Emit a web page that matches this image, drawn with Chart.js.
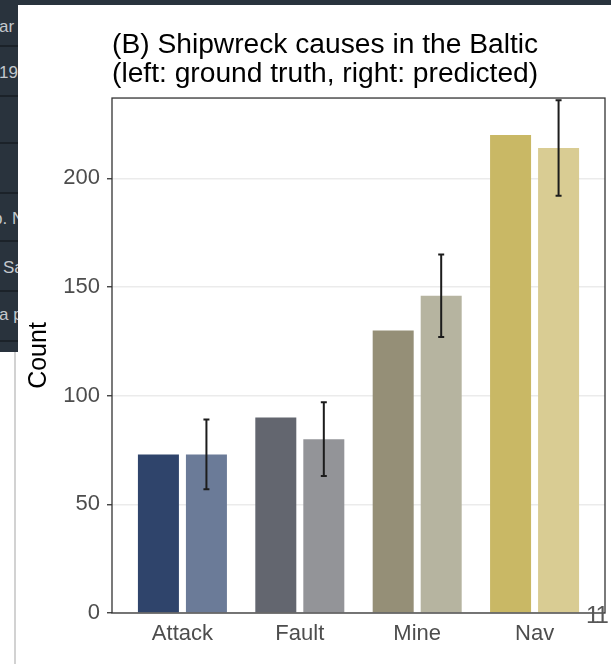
<!DOCTYPE html>
<html>
<head>
<meta charset="utf-8">
<script src="https://cdn.jsdelivr.net/npm/chart.js@4.4.1/dist/chart.umd.min.js"></script>
<style>
  html, body { margin: 0; padding: 0; width: 611px; height: 664px; overflow: hidden; background: #fff;
    font-family: "Liberation Sans", Arial, sans-serif; }
  #side { position: absolute; left: 0; top: 0; width: 18px; height: 352px; background: #29333d; overflow: hidden; }
  #topband { position: absolute; left: 0; top: 0; width: 611px; height: 5px; background: #29333d; }
  .row { position: absolute; left: 0; width: 18px; height: 2px; background: #1b2229; }
  .frag { position: absolute; color: #c3c8cd; font-size: 17px; line-height: 17px; white-space: nowrap; }
  #edge { position: absolute; left: 14px; top: 352px; width: 2px; height: 312px; background: #d2d2d2; }
  #panel { position: absolute; left: 18px; top: 5px; width: 593px; height: 659px; background: #fff; }
  #pageno { position: absolute; left: 586px; top: 603px; font-size: 24px; line-height: 24px; color: #575757;
    letter-spacing: -2px; }
</style>
</head>
<body>
<div id="topband"></div>
<div id="side">
  <div class="row" style="top:45px"></div>
  <div class="row" style="top:95px"></div>
  <div class="row" style="top:142px"></div>
  <div class="row" style="top:192px"></div>
  <div class="row" style="top:240px"></div>
  <div class="row" style="top:290px"></div>
  <div class="row" style="top:340px"></div>
  <div class="frag" style="left:-1px;top:18px">ar</div>
  <div class="frag" style="left:-1px;top:64px">19</div>
  <div class="frag" style="left:-7px;top:210px">b. N</div>
  <div class="frag" style="left:3px;top:259px">Sa</div>
  <div class="frag" style="left:-1px;top:306px">a p</div>
</div>
<div id="edge"></div>
<div id="panel"><canvas id="c" width="593" height="659"></canvas></div>
<div id="pageno">11</div>

<script>
// Shipwreck causes: observed counts vs. model predictions with intervals
const categories = ["Attack", "Fault", "Mine", "Nav"];
const groundTruth = [73, 90, 130, 220];
const predicted = [73, 80, 146, 214];
const predictedLow = [57, 63, 127, 192];
const predictedHigh = [89, 97, 165, 236];
const yTicks = [0, 50, 100, 150, 200];

const truthColors = ["#2f446b", "#63666f", "#958f77", "#c9b865"];
const predColors = ["#6b7b98", "#939498", "#b6b4a0", "#d9cc93"];

// Outline round the plotting panel
const panelFrame = {
  id: "panelFrame",
  afterDatasetsDraw(chart) {
    const { ctx, chartArea: a } = chart;
    ctx.save();
    ctx.strokeStyle = "#333333";
    ctx.lineWidth = 1.3;
    ctx.strokeRect(a.left, a.top, a.right - a.left, a.bottom - a.top);
    ctx.restore();
  }
};

// Vertical intervals on the predicted bars
const intervalBars = {
  id: "intervalBars",
  afterDatasetsDraw(chart) {
    const meta = chart.getDatasetMeta(1);
    const y = chart.scales.y;
    const ctx = chart.ctx;
    ctx.save();
    ctx.strokeStyle = "#1c1c1c";
    ctx.lineWidth = 2;
    meta.data.forEach((bar, i) => {
      const x = bar.x;
      const top = y.getPixelForValue(predictedHigh[i]);
      const bot = y.getPixelForValue(predictedLow[i]);
      ctx.beginPath();
      ctx.moveTo(x, top); ctx.lineTo(x, bot);
      ctx.moveTo(x - 3, top); ctx.lineTo(x + 3, top);
      ctx.moveTo(x - 3, bot); ctx.lineTo(x + 3, bot);
      ctx.stroke();
    });
    ctx.restore();
  }
};

new Chart(document.getElementById("c"), {
  type: "bar",
  data: {
    datasets: [
      {
        label: "ground truth",
        data: groundTruth.map((v, i) => ({ x: i, y: v })),
        backgroundColor: truthColors,
        borderWidth: 0
      },
      {
        label: "predicted",
        data: predicted.map((v, i) => ({ x: i, y: v })),
        backgroundColor: predColors,
        borderWidth: 0
      }
    ]
  },
  options: {
    responsive: false,
    animation: false,
    devicePixelRatio: 1,
    categoryPercentage: 0.818,
    barPercentage: 0.854,
    layout: { padding: { top: 0, right: 6, bottom: 0, left: 0 } },
    plugins: {
      legend: { display: false },
      tooltip: { enabled: false },
      title: {
        display: true,
        text: ["(B) Shipwreck causes in the Baltic", "(left: ground truth, right: predicted)"],
        align: "start",
        fullSize: false,
        color: "#000000",
        font: { family: "'Liberation Sans', Arial, sans-serif", size: 28.2, weight: "normal", lineHeight: 1.02 },
        padding: { top: 26, bottom: 9.5 }
      }
    },
    scales: {
      x: {
        type: "linear",
        min: -0.6,
        max: 3.6,
        offset: false,
        grid: { display: false, drawTicks: false },
        border: { display: false },
        afterFit(scale) { scale.height = 51; },
        afterBuildTicks(scale) { scale.ticks = categories.map((c, i) => ({ value: i })); },
        ticks: {
          includeBounds: false,
          autoSkip: false,
          maxRotation: 0,
          padding: 8,
          color: "#4d4d4d",
          font: { family: "'Liberation Sans', Arial, sans-serif", size: 22 },
          callback: (v) => categories[v]
        }
      },
      y: {
        min: 0,
        max: 237,
        afterFit(scale) { scale.width = 94; },
        afterBuildTicks(scale) { scale.ticks = yTicks.map(v => ({ value: v })); },
        grid: {
          color: "#ebebeb",
          lineWidth: 1.5,
          drawTicks: true,
          tickLength: 5,
          tickColor: "#333333",
          tickWidth: 1.3
        },
        border: { display: false },
        ticks: {
          includeBounds: false,
          padding: 7,
          color: "#4d4d4d",
          font: { family: "'Liberation Sans', Arial, sans-serif", size: 22 }
        },
        title: {
          display: true,
          text: "Count",
          color: "#000000",
          font: { family: "'Liberation Sans', Arial, sans-serif", size: 25 },
          padding: { top: 6, bottom: 0 }
        }
      }
    }
  },
  plugins: [panelFrame, intervalBars]
});
</script>
</body>
</html>
